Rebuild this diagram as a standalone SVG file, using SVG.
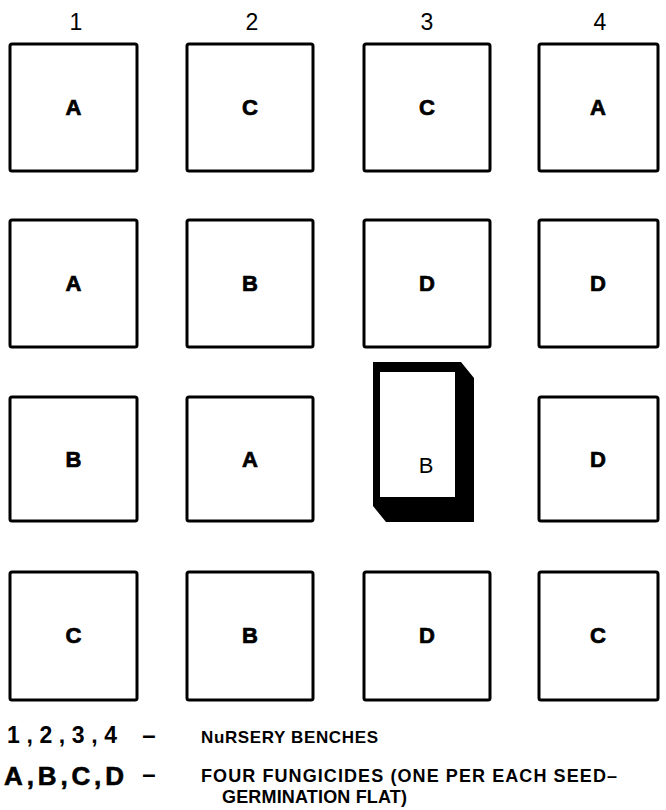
<svg xmlns="http://www.w3.org/2000/svg" width="666" height="810" viewBox="0 0 666 810">
<style>
.box{fill:#fff;stroke:#000;stroke-width:3;}
.lbl{font-family:"Liberation Sans",Arial,sans-serif;font-weight:bold;font-size:22px;text-anchor:middle;fill:#000;stroke:#000;stroke-width:0.7;}
.hdr{font-family:"Liberation Sans",Arial,sans-serif;font-size:23px;text-anchor:middle;fill:#000;}
.leg{font-family:"Liberation Sans",Arial,sans-serif;font-weight:bold;fill:#000;}
</style>
<rect width="666" height="810" fill="#fff"/>
<g id="headers">
<text class="hdr" x="76" y="30">1</text>
<text class="hdr" x="252" y="30">2</text>
<text class="hdr" x="427" y="30">3</text>
<text class="hdr" x="600" y="30">4</text>
</g>
<g id="r1c1"><rect class="box" x="10" y="44" width="127" height="127" rx="2"/><text class="lbl" x="73.5" y="115">A</text></g>
<g id="r1c2"><rect class="box" x="187" y="44" width="126" height="127" rx="2"/><text class="lbl" x="250" y="115">C</text></g>
<g id="r1c3"><rect class="box" x="364" y="44" width="126" height="127" rx="2"/><text class="lbl" x="427" y="115">C</text></g>
<g id="r1c4"><rect class="box" x="539" y="44" width="119" height="127" rx="2"/><text class="lbl" x="598" y="115">A</text></g>

<g id="r2c1"><rect class="box" x="10" y="220" width="127" height="127" rx="2"/><text class="lbl" x="73.5" y="291">A</text></g>
<g id="r2c2"><rect class="box" x="187" y="220" width="126" height="127" rx="2"/><text class="lbl" x="250" y="291">B</text></g>
<g id="r2c3"><rect class="box" x="364" y="220" width="126" height="127" rx="2"/><text class="lbl" x="427" y="291">D</text></g>
<g id="r2c4"><rect class="box" x="539" y="220" width="119" height="127" rx="2"/><text class="lbl" x="598" y="291">D</text></g>

<g id="r3c1"><rect class="box" x="10" y="397" width="127" height="124" rx="2"/><text class="lbl" x="73.5" y="467">B</text></g>
<g id="r3c2"><rect class="box" x="187" y="397" width="126" height="124" rx="2"/><text class="lbl" x="250" y="467">A</text></g>
<g id="r3c3">
<path d="M373,362 H461 L474,378 V522 H386 L373,506 Z" fill="#000"/>
<rect x="380" y="372" width="75" height="125" fill="#fff"/>
<text x="426" y="473" font-family="'Liberation Sans',Arial,sans-serif" font-size="22" text-anchor="middle" fill="#000">B</text>
</g>
<g id="r3c4"><rect class="box" x="539" y="397" width="119" height="124" rx="2"/><text class="lbl" x="598" y="467">D</text></g>

<g id="r4c1"><rect class="box" x="10" y="572" width="127" height="128" rx="2"/><text class="lbl" x="73.5" y="643">C</text></g>
<g id="r4c2"><rect class="box" x="187" y="572" width="126" height="128" rx="2"/><text class="lbl" x="250" y="643">B</text></g>
<g id="r4c3"><rect class="box" x="364" y="572" width="126" height="128" rx="2"/><text class="lbl" x="427" y="643">D</text></g>
<g id="r4c4"><rect class="box" x="539" y="572" width="119" height="128" rx="2"/><text class="lbl" x="598" y="643">C</text></g>

<g id="legend">
<text class="leg" x="7" y="743" font-size="23" textLength="110" lengthAdjust="spacing">1,2,3,4</text>
<text class="leg" x="149" y="743" font-size="24" text-anchor="middle">–</text>
<text class="leg" x="201" y="743" font-size="17" textLength="177" lengthAdjust="spacing">NuRSERY BENCHES</text>
<text class="leg" x="4" y="785" font-size="26" textLength="120" lengthAdjust="spacing" font-weight="normal" stroke="#000" stroke-width="0.6">A,B,C,D</text>
<text class="leg" x="149" y="782" font-size="24" text-anchor="middle">–</text>
<text class="leg" x="201" y="782" font-size="18" textLength="416" lengthAdjust="spacing">FOUR FUNGICIDES (ONE PER EACH SEED–</text>
<text class="leg" x="222" y="803" font-size="18" textLength="185" lengthAdjust="spacing">GERMINATION FLAT)</text>
</g>
</svg>
